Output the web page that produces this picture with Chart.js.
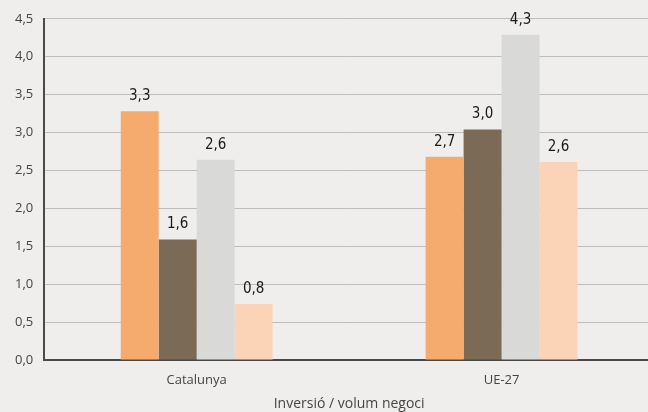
<!DOCTYPE html>
<html><head><meta charset="utf-8">
<script src="https://cdn.jsdelivr.net/npm/chart.js@4"></script>
<style>html,body{margin:0;padding:0;background:#efeeec;overflow:hidden;}#wrap{width:648px;height:412px;overflow:hidden;}</style>
</head><body><div id="wrap"><canvas id="c" width="654" height="412"></canvas></div>
<script>
const categories = ["Catalunya", "UE-27"];
const series1 = [3.28, 2.68];
const series2 = [1.59, 3.04];
const series3 = [2.64, 4.29];
const series4 = [0.74, 2.61];
const labels1 = ["3,3", "2,7"];
const labels2 = ["1,6", "3,0"];
const labels3 = ["2,6", "4,3"];
const labels4 = ["0,8", "2,6"];
const yTicks = [0, 0.5, 1, 1.5, 2, 2.5, 3, 3.5, 4, 4.5];
const xTitle = "Inversió / volum negoci";

const valueLabels = [labels1, labels2, labels3, labels4];
const labelPlugin = {
  id: 'vlabels',
  afterDatasetsDraw(chart) {
    const ctx = chart.ctx;
    ctx.save();
    ctx.font = '15px "Liberation Sans Narrow", "DejaVu Sans Condensed", sans-serif';
    ctx.fillStyle = '#1a1a1a';
    ctx.textAlign = 'center';
    ctx.textBaseline = 'middle';
    chart.data.datasets.forEach((ds, i) => {
      const meta = chart.getDatasetMeta(i);
      meta.data.forEach((bar, j) => {
        ctx.fillText(valueLabels[i][j], bar.x, bar.y - 15);
      });
    });
    ctx.restore();
  }
};

new Chart(document.getElementById('c'), {
  type: 'bar',
  data: {
    labels: categories,
    datasets: [
      {data: series1, backgroundColor: '#f5aa6e'},
      {data: series2, backgroundColor: '#7a6a56'},
      {data: series3, backgroundColor: '#d9d9d8'},
      {data: series4, backgroundColor: '#fbd3b6'}
    ]
  },
  options: {
    responsive: false,
    animation: false,
    devicePixelRatio: 1,
    layout: {padding: {top: 12, right: 0, left: 4, bottom: 0}},
    plugins: {legend: {display: false}, tooltip: {enabled: false}},
    datasets: {bar: {categoryPercentage: 0.498, barPercentage: 1.0}},
    scales: {
      x: {
        afterFit(scale) { scale.height = 52; },
        grid: {display: false, drawTicks: false},
        border: {color: '#4a4a4a', width: 2},
        ticks: {color: '#444', font: {family: '"Open Sans", sans-serif', size: 13, lineHeight: 1}, padding: 14},
        title: {display: true, text: xTitle, color: '#444', font: {family: '"Open Sans", sans-serif', size: 14, lineHeight: 1}, padding: {top: 4, bottom: 1}}
      },
      y: {
        min: 0, max: 4.5,
        afterBuildTicks(scale) { scale.ticks = yTicks.map(v => ({value: v})); },
        grid: {color: '#bdbdbd', lineWidth: 1, drawTicks: false},
        border: {color: '#4a4a4a', width: 2},
        ticks: {color: '#444', font: {family: '"Open Sans", sans-serif', size: 13}, padding: 11,
          callback: v => v.toFixed(1).replace('.', ',')}
      }
    }
  },
  plugins: [labelPlugin]
});
</script></body></html>
